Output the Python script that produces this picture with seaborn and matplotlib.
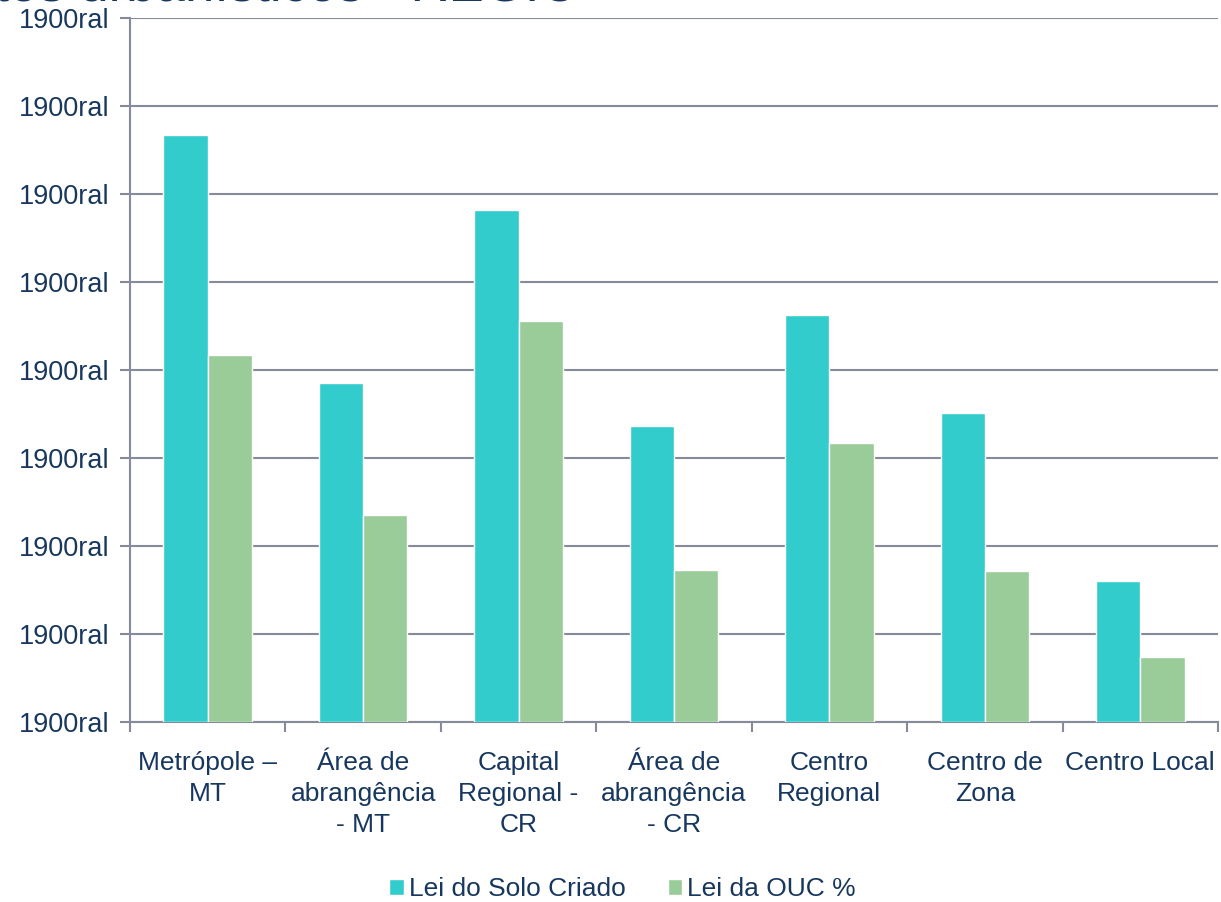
import pandas as pd
import numpy as np
import matplotlib
matplotlib.use("Agg")
import matplotlib.pyplot as plt
import seaborn as sns
from matplotlib.ticker import FixedLocator, FixedFormatter

# -----------------------------
# Data
# -----------------------------
categorias = ["Metrópole –\nMT", "Área de\nabrangência\n- MT", "Capital\nRegional -\nCR",
              "Área de\nabrangência\n- CR", "Centro\nRegional", "Centro de\nZona", "Centro Local"]
solo_criado = [6.67, 3.85, 5.82, 3.36, 4.63, 3.51, 1.60]
ouc = [4.17, 2.35, 4.56, 1.73, 3.17, 1.72, 0.74]
series = ["Lei do Solo Criado", "Lei da OUC %"]
y_ticks = [0, 1, 2, 3, 4, 5, 6, 7, 8]
y_tick_labels = ["1900ral"] * len(y_ticks)

df = pd.DataFrame({
    "categoria": categorias * 2,
    "valor": solo_criado + ouc,
    "serie": [series[0]] * len(categorias) + [series[1]] * len(categorias),
})

# -----------------------------
# Style
# -----------------------------
sns.set_style("white")
plt.rcParams["font.family"] = ["Liberation Sans", "DejaVu Sans"]
text_color = "#17375E"
grid_color = "#868B9C"
palette = {series[0]: "#33CCCC", series[1]: "#99CC99"}

fig = plt.figure(figsize=(12.21, 9.02), dpi=100)
ax = fig.add_axes([130 / 1221, 1 - 722 / 902, 1088 / 1221, 704 / 902])

sns.barplot(data=df, x="categoria", y="valor", hue="serie", palette=palette,
            width=0.57, gap=0, saturation=1, ax=ax, zorder=3)

ax.set_xlim(-0.5, len(categorias) - 0.5)
ax.set_ylim(0, 8)
ax.yaxis.set_major_locator(FixedLocator(y_ticks))
ax.yaxis.set_major_formatter(FixedFormatter(y_tick_labels))
ax.grid(axis="y", color=grid_color, linewidth=1.5, zorder=0)
ax.set_axisbelow(True)

for side in ["top", "right"]:
    ax.spines[side].set_visible(False)
for side in ["left", "bottom"]:
    ax.spines[side].set_color(grid_color)
    ax.spines[side].set_linewidth(1.5)

ax.set_xlabel("")
ax.set_ylabel("")
ax.tick_params(axis="y", colors=grid_color, length=7, width=1.5, labelsize=19.5,
               labelcolor=text_color, pad=7.5, left=True)
ax.tick_params(axis="x", which="major", length=0, labelsize=19, labelcolor=text_color, pad=21)
ax.set_xticks(np.arange(-0.5, len(categorias)), minor=True)
ax.tick_params(axis="x", which="minor", length=7, width=1.5, colors=grid_color, bottom=True)
for lbl in ax.get_xticklabels():
    lbl.set_linespacing(1.37)

# legend at the bottom
handles, labels = ax.get_legend_handles_labels()
ax.legend_.remove()
fig.legend(handles, labels, loc="center", bbox_to_anchor=(0.510, 1 - 889 / 902), ncol=2,
           frameon=False, fontsize=19, labelcolor=text_color, handlelength=0.55,
           handleheight=0.55, handletextpad=0.2, columnspacing=1.58)

# title cut off at the top of the picture
fig.text(577 / 1221, 1 - 2 / 902, "Instrumentos urbanísticos - REGIC", ha="right",
         va="baseline", fontsize=38, color=text_color)

plt.savefig("out.png", dpi=100)
